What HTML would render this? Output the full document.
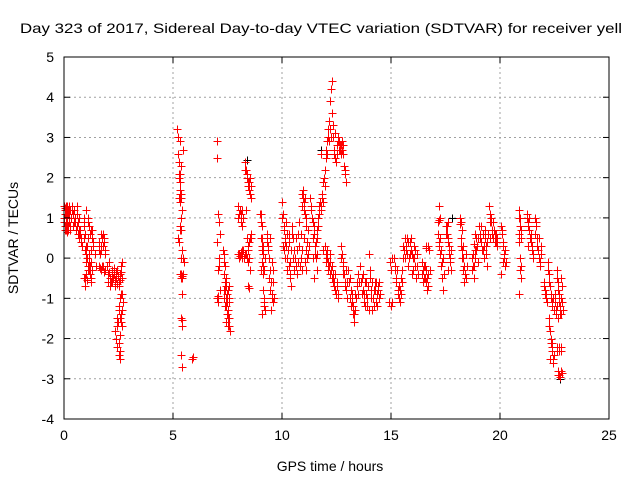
<!DOCTYPE html>
<html><head><meta charset="utf-8"><style>
html,body{margin:0;padding:0;background:#fff}
svg{display:block;font-family:"Liberation Sans",sans-serif}
</style></head><body>
<svg id="chart" width="640" height="480" viewBox="0 0 640 480">
<text x="20" y="33" font-size="14" textLength="602" lengthAdjust="spacingAndGlyphs">Day 323 of 2017, Sidereal Day-to-day VTEC variation (SDTVAR) for receiver yell</text>
<text x="330" y="471" font-size="14" text-anchor="middle">GPS time / hours</text>
<text transform="translate(18,238) rotate(-90)" font-size="14" text-anchor="middle">SDTVAR / TECUs</text>
<g id="grid"></g>
<g id="marks"></g>
<g id="axes"></g>
</svg>
<script>
const xTicks=[0,5,10,15,20,25];
const yTicks=[-4,-3,-2,-1,0,1,2,3,4,5];
const redHours=[0,0.02,0.04,0.06,0.08,0.1,0.12,0.14,0.16,0.18,0.2,0.22,0.25,0.28,0.3,
0.35,0.4,0.45,0.5,0.55,0.6,0.65,0.7,0.75,0.8,
0.9,0.93,0.96,1.0,1.03,1.06,1.1,1.13,1.16,1.2,1.23,1.26,1.3,0.92,0.95,1.0,
1.1,1.15,1.2,1.25,1.3,1.35,1.4,1.45,
1.6,1.65,1.7,1.75,1.8,1.85,1.9,
1.6,1.7,1.8,1.9,2.0,2.05,2.1,2.15,2.2,2.25,2.3,2.35,2.4,2.45,2.5,2.55,2.6,2.65,
2.35,2.4,2.45,2.5,2.55,2.45,2.5,2.55,2.6,2.6,2.65,2.7,2.55,
5.2,5.22,5.25,5.28,5.3,5.32,5.35,5.38,5.4,5.3,5.25,5.35,5.4,5.45,5.5,5.35,5.4,5.45,5.4,5.35,5.4,5.35,5.4,5.3,5.45,
5.85,5.9,
7.0,7.0,7.05,7.0,7.1,7.15,7.05,7.1,7.0,7.05,7.15,
7.3,7.32,7.35,7.38,7.4,7.42,7.45,7.48,7.5,7.52,7.55,7.58,7.6,7.45,7.55,
8.0,8.05,8.1,8.15,8.2,8.0,8.05,8.1,8.15,8.25,
8.3,8.35,8.4,8.45,8.5,8.55,8.6,8.35,8.4,8.45,8.5,8.55,8.6,8.45,8.35,
9.0,9.02,9.05,9.08,9.1,9.12,9.15,9.18,9.2,9.1,9.15,9.2,
9.3,9.35,9.4,9.45,9.5,9.55,9.6,9.5,9.55,9.6,
10.0,10.05,10.1,10.15,10.2,10.25,10.3,10.35,10.4,10.1,10.2,10.3,
10.45,10.5,10.55,10.6,10.65,10.7,10.75,10.8,10.85,10.9,
10.9,10.95,11.0,11.05,11.1,11.15,11.2,11.05,11.1,
11.3,11.35,11.4,11.45,11.5,11.55,11.6,11.45,
11.6,11.65,11.7,11.75,11.8,11.85,11.9,11.95,12.0,11.8,12.05,12.1,12.15,12.2,12.25,12.28,12.3,12.35,12.4,12.45,12.5,12.55,12.6,12.65,12.7,12.75,12.8,12.85,12.9,12.95,
11.9,12.0,12.05,12.1,12.15,12.2,12.25,12.3,12.35,12.4,12.45,12.5,12.55,
12.7,12.75,12.8,12.85,12.9,12.95,13.0,
13.05,13.1,13.15,13.2,13.25,13.3,13.35,13.4,13.45,13.5,
13.6,13.65,13.7,13.75,13.8,13.85,13.9,13.95,14.0,14.05,14.1,14.15,14.2,14.25,14.3,14.35,14.4,14.45,
14.9,15.0,15.05,14.95,15.0,15.05,
15.15,15.2,15.25,15.3,15.35,15.4,15.45,15.5,
15.55,15.6,15.65,15.7,15.75,15.8,15.85,15.9,15.95,16.0,16.05,16.1,16.15,16.2,
16.4,16.45,16.5,16.55,16.6,16.65,16.7,16.6,16.7,16.75,
17.2,17.25,17.15,17.2,17.25,17.3,17.35,17.4,17.3,
17.5,17.55,17.6,17.65,17.7,17.75,17.6,
18.15,18.2,18.25,18.2,18.25,18.3,18.35,18.4,18.45,
18.7,18.75,18.8,18.85,18.9,18.95,19.0,18.85,
19.05,19.1,19.15,19.2,19.25,19.3,19.35,19.4,
19.5,19.55,19.6,19.65,19.7,19.75,19.8,19.85,
20.05,20.1,20.15,20.2,20.25,20.05,
20.85,20.9,20.95,20.85,20.9,20.95,20.85,
21.25,21.3,21.35,21.4,21.45,21.5,
21.6,21.65,21.7,21.75,21.8,21.85,21.9,
22.0,22.05,22.1,22.15,
22.2,22.25,22.3,22.35,22.4,22.5,22.55,
22.25,22.3,22.35,22.4,22.45,22.4,
22.6,22.7,22.8,22.65,22.7,22.8,22.6,22.65,22.7,22.75,22.8,22.85,22.8];
const redValues=[1.0,1.3,0.7,1.2,0.9,1.1,0.8,1.3,1.0,0.7,1.2,0.9,1.1,0.8,1.0,
1.2,1.1,0.9,1.0,0.7,0.8,0.6,0.5,0.7,0.4,
1.0,0.9,0.6,0.3,0.1,0.0,-0.2,-0.1,-0.3,-0.4,-0.5,-0.6,-0.3,-0.5,-0.7,-0.4,
0.9,0.8,0.6,0.7,0.5,0.3,0.1,-0.2,
0.2,0.1,0.3,0.5,0.6,0.4,0.2,
-0.2,-0.3,-0.2,-0.3,-0.4,-0.1,-0.5,-0.6,-0.3,-0.5,-0.4,-0.7,-0.5,-0.3,-0.6,-0.4,-0.2,-0.5,
-1.8,-2.0,-2.2,-2.4,-2.5,-1.5,-1.2,-1.0,-0.9,-1.4,-1.7,-1.1,-1.9,
3.2,3.0,2.6,2.1,1.6,1.9,1.5,2.3,1.2,0.8,0.5,0.7,0.2,0.0,-0.1,-0.4,-0.5,-0.4,-0.9,-1.5,-1.7,-2.4,-2.7,2.9,2.7,
-2.5,-2.45,
2.9,2.5,1.1,0.4,0.9,0.6,-0.3,-0.2,-1.0,-1.1,-0.8,
0.2,-0.1,-0.4,-0.6,-0.8,-1.0,-1.2,-0.9,-1.3,-1.5,-1.1,-1.7,-1.8,-0.5,-0.7,
1.3,1.1,0.9,1.2,1.0,0.1,0.0,0.1,0.2,0.0,
2.4,2.2,2.0,1.8,1.9,1.6,1.5,1.2,0.5,0.2,0.0,-0.3,0.5,-0.7,0.1,
1.1,0.9,0.5,0.2,-0.1,-0.4,-0.8,-1.1,-1.3,-1.4,0.3,0.0,
0.6,0.3,0.0,-0.3,-0.6,-0.9,-1.1,-1.3,-0.1,-0.3,
1.4,1.1,0.8,0.5,0.3,0.0,-0.2,-0.5,-0.7,0.2,0.9,0.6,
0.8,0.5,0.2,0.0,-0.2,-0.4,0.6,0.3,0.0,-0.3,
1.6,1.7,1.4,1.1,0.8,0.4,0.1,-0.1,-0.3,
1.5,1.2,0.9,0.6,0.3,0.0,-0.3,-0.5,
0.5,0.8,1.1,1.4,1.3,1.6,1.9,2.2,2.5,2.6,2.9,3.2,3.4,3.9,4.2,4.4,3.6,3.0,2.7,2.5,2.8,2.9,2.7,2.8,2.6,2.9,2.8,2.3,2.2,1.9,
0.2,0.1,0.0,-0.1,-0.2,0.1,-0.3,-0.5,-0.4,-0.6,-0.8,-0.7,-0.9,
0.3,0.1,-0.2,-0.4,-0.6,-0.8,-1.0,
-0.3,-0.5,-0.8,-1.1,-1.4,-1.6,-1.3,-1.0,-0.7,-0.4,
-0.2,-0.5,-0.8,-1.1,-0.6,-0.9,-1.2,-0.7,0.1,-0.3,-1.0,-1.3,-0.8,-0.6,-1.1,-0.9,-0.7,-1.0,
-1.1,-1.2,-1.1,-0.1,-0.3,0.0,
0.0,-0.2,-0.5,-0.8,-1.0,-1.1,-0.9,-0.6,
0.0,0.2,0.5,0.3,0.1,-0.2,0.4,0.2,-0.4,0.0,0.3,-0.2,-0.5,0.1,
-0.1,-0.3,-0.5,-0.2,-0.6,-0.8,-0.4,0.3,0.3,0.2,
1.3,1.0,0.9,0.4,0.1,-0.2,-0.5,-0.8,0.2,
0.8,0.6,0.4,0.1,-0.1,-0.3,0.9,
1.0,0.9,0.7,0.3,0.0,-0.3,-0.6,-0.4,0.1,
0.0,-0.2,-0.5,0.2,0.5,0.3,-0.1,0.6,
0.8,0.6,0.4,0.2,0.0,0.5,0.3,-0.2,
1.3,1.1,0.9,0.7,0.5,0.6,0.4,0.3,
0.8,0.6,0.3,0.0,-0.2,-0.4,
1.2,1.0,0.7,0.4,0.0,-0.2,-0.9,
1.1,0.9,0.7,0.4,0.2,0.0,
1.0,0.8,0.5,0.2,0.0,-0.2,0.3,
-0.6,-0.8,-1.0,-1.1,
-0.1,-0.4,-0.7,-1.0,-1.2,-0.9,-1.3,
-1.5,-1.8,-2.0,-2.3,-2.6,-2.1,
-2.2,-2.3,-2.2,-2.8,-2.9,-2.8,-0.3,-0.6,-0.9,-1.2,-1.4,-1.1,-0.5];
const moreHours=[0.01,0.03,0.05,0.07,0.09,0.11,0.13,0.15,0.17,0.19,0.21,0.23,0.26,0.29,0.05,0.15,
0.33,0.38,0.42,0.48,0.52,0.58,0.62,0.68,0.72,0.78,0.82,0.7,0.6,
0.91,0.94,0.97,0.99,1.02,1.05,1.08,1.11,1.14,1.17,1.19,1.22,1.25,1.28,1.31,1.0,1.08,0.95,1.05,
1.62,1.68,1.72,1.78,1.82,1.88,
1.65,1.75,1.85,1.95,2.0,2.08,2.12,2.18,2.22,2.28,2.32,2.38,2.42,2.48,2.52,2.58,2.62,2.68,
2.42,2.47,2.52,2.57,2.62,2.67,2.68,2.5,2.55,
5.27,5.29,5.31,5.33,5.36,5.38,5.32,5.28,5.36,5.42,5.38,5.32,5.41,5.26,5.34,
7.33,7.36,7.4,7.43,7.46,7.49,7.51,7.54,7.57,7.59,7.44,7.35,7.4,7.5,
7.02,7.08,7.12,
8.02,8.08,8.12,8.18,8.22,8.28,8.08,8.12,8.18,8.0,
8.32,8.38,8.42,8.48,8.52,8.58,8.42,8.48,8.52,8.58,8.38,8.44,8.5,
9.03,9.06,9.09,9.11,9.13,9.16,9.19,9.17,9.05,9.1,
9.32,9.38,9.42,9.47,9.52,9.57,9.62,9.45,
10.02,10.07,10.12,10.17,10.22,10.27,10.32,10.37,10.42,10.05,10.15,10.25,10.35,
10.47,10.52,10.57,10.62,10.67,10.72,10.77,10.82,10.87,10.92,
10.92,10.97,11.02,11.07,11.12,11.17,11.22,11.0,11.1,11.15,
11.32,11.37,11.42,11.47,11.52,11.57,11.62,11.4,
11.62,11.67,11.72,11.77,11.82,11.87,11.92,11.97,12.02,12.07,12.12,12.17,12.22,12.27,12.32,12.37,12.42,12.47,12.52,12.57,12.62,12.67,12.72,12.77,12.82,12.88,
11.95,12.02,12.08,12.12,12.18,12.22,12.28,12.32,12.38,12.42,12.48,12.52,12.58,
12.72,12.78,12.82,12.88,12.92,12.98,
13.07,13.12,13.17,13.22,13.27,13.32,13.37,13.42,13.47,13.52,
13.62,13.67,13.72,13.77,13.82,13.87,13.92,13.97,14.02,14.07,14.12,14.17,14.22,14.27,14.32,14.37,14.42,14.47,14.5,
15.17,15.22,15.27,15.32,15.37,15.42,15.47,15.52,
15.57,15.62,15.67,15.72,15.77,15.82,15.87,15.92,15.97,16.02,16.07,16.12,16.17,16.22,
16.42,16.47,16.52,16.57,16.62,16.67,16.72,16.77,16.62,
17.17,17.22,17.27,17.32,17.37,17.42,17.22,
17.52,17.57,17.62,17.67,17.72,17.77,17.62,
18.17,18.22,18.27,18.32,18.37,18.42,18.47,18.3,
18.72,18.77,18.82,18.87,18.92,18.97,18.8,
19.07,19.12,19.17,19.22,19.27,19.32,19.37,19.42,19.47,
19.52,19.57,19.62,19.67,19.72,19.77,19.82,19.87,19.55,
20.07,20.12,20.17,20.22,20.27,20.12,
20.87,20.92,20.97,20.87,20.92,20.97,
21.22,21.27,21.32,21.37,21.42,21.47,21.52,21.3,
21.62,21.67,21.72,21.77,21.82,21.87,
22.02,22.07,22.12,22.17,
22.22,22.27,22.32,22.37,22.42,22.47,22.52,22.57,22.62,22.67,
22.27,22.32,22.37,22.42,22.47,22.3,
22.62,22.72,22.82,22.67,22.75,22.85,22.62,22.67,22.72,22.77,22.82,22.87,22.85];
const moreValues=[0.9,1.1,0.8,1.3,1.0,0.7,1.2,0.9,1.1,0.8,1.3,1.0,0.7,1.2,1.25,0.65,
1.0,1.3,0.8,1.2,0.9,1.1,0.9,0.7,0.6,0.5,0.3,1.0,1.3,
0.8,0.5,0.2,-0.1,-0.4,0.3,-0.3,0.5,0.1,-0.2,0.6,0.2,-0.1,0.7,0.4,1.2,1.0,-0.5,-0.55,
0.4,0.2,0.6,0.3,0.5,0.1,
-0.25,-0.2,-0.35,-0.2,-0.6,-0.35,-0.7,-0.45,-0.6,-0.25,-0.55,-0.35,-0.65,-0.45,-0.7,-0.55,-0.35,-0.1,
-1.7,-1.6,-1.3,-1.5,-1.6,-1.3,-0.9,-2.1,-2.3,
2.0,1.5,1.4,2.1,1.6,1.0,0.7,0.4,0.0,-0.45,-0.5,-0.4,-1.55,2.4,1.7,
-0.8,-1.0,-1.2,-0.7,-1.4,-1.1,-0.8,-1.3,-1.0,-1.5,-1.6,0.1,-0.2,-1.7,
-1.0,-0.95,0.0,
0.1,0.05,0.15,0.0,0.2,0.1,1.2,1.1,0.8,1.0,
2.2,2.1,1.9,1.7,2.0,1.8,0.3,0.4,0.5,0.6,0.0,-0.1,-0.75,
1.1,0.8,0.3,-0.2,0.1,-1.0,-1.2,-0.3,-0.3,0.5,
0.4,0.2,-0.5,-0.8,-1.0,-0.6,-1.0,0.5,
1.0,0.7,0.4,0.9,0.6,0.2,0.4,-0.1,0.2,0.3,0.0,-0.3,-0.4,
0.6,0.0,-0.3,0.5,0.2,-0.1,0.9,-0.2,0.6,0.2,
1.3,1.5,1.2,1.5,1.0,0.7,0.3,0.5,0.2,0.0,
1.3,1.0,0.5,0.8,0.1,0.4,0.1,0.0,
0.7,1.0,1.3,1.2,1.5,1.4,2.0,1.8,2.7,2.6,3.0,2.9,3.2,3.0,3.3,2.6,3.1,2.4,2.6,3.0,2.9,2.7,2.8,2.7,2.6,2.1,
0.3,-0.1,0.2,-0.3,-0.1,-0.4,-0.2,-0.6,-0.7,-0.4,-0.9,-0.6,-1.0,
0.0,-0.4,-0.1,-0.7,-0.3,-0.6,
-0.6,-1.0,-1.2,-0.9,-1.2,-1.4,-0.9,-0.6,-0.9,-0.6,
-0.6,-0.9,-0.4,-0.9,-1.2,-0.6,-1.0,-1.3,-0.5,-0.8,-0.6,-1.0,-1.2,-0.8,-0.6,-1.2,-0.8,-0.6,-0.9,
-0.3,-0.6,-0.3,-0.9,-0.7,-0.8,-0.5,-0.3,
0.3,0.0,0.2,0.5,0.4,0.0,0.1,0.5,0.1,-0.3,0.0,0.2,-0.2,-0.4,
-0.4,-0.6,-0.2,-0.5,-0.3,-0.5,-0.7,-0.3,0.25,
0.6,0.3,0.5,-0.1,0.0,-0.4,0.95,
0.6,0.8,0.5,0.3,0.0,0.2,-0.3,
0.85,0.5,0.2,0.0,-0.2,-0.5,-0.2,0.3,
-0.3,0.1,-0.2,0.0,0.2,0.5,0.35,
0.5,0.8,0.2,0.6,0.3,0.7,0.1,0.4,0.6,
0.9,1.0,0.6,0.9,0.7,0.4,0.6,0.5,0.5,
0.7,0.4,0.1,0.2,-0.1,-0.1,
1.0,0.8,0.5,0.6,-0.3,-0.5,
1.0,0.8,1.0,0.5,0.6,0.3,0.1,0.3,
0.6,0.9,0.3,0.5,-0.1,0.1,
-0.7,-0.9,-0.9,-1.1,
-0.3,-0.6,-0.9,-1.1,-1.0,-1.3,-1.1,-1.4,-1.2,-1.5,
-1.7,-2.1,-2.2,-2.5,-2.4,-2.5,
-2.3,-2.2,-2.3,-2.9,-2.95,-2.85,-0.5,-0.8,-1.1,-1.4,-1.0,-1.3,-0.7];
const blackHours=[12.3,11.8,17.8,22.75,8.4];
const blackValues=[4.4,2.7,1.0,-3.0,2.45];

const L=64,R=609,T=57,B=419,xMin=0,xMax=25,yMin=-4,yMax=5;
const sx=v=>L+(v-xMin)/(xMax-xMin)*(R-L);
const sy=v=>B-(v-yMin)/(yMax-yMin)*(B-T);
const NS='http://www.w3.org/2000/svg';
function mk(tag,attrs,parent){const e=document.createElementNS(NS,tag);for(const k in attrs)e.setAttribute(k,attrs[k]);parent.appendChild(e);return e;}
const grid=document.getElementById('grid'),axes=document.getElementById('axes'),marks=document.getElementById('marks');
xTicks.forEach(t=>{const x=sx(t);
 if(t>xMin&&t<xMax){const g=mk('line',{x1:x,x2:x,y1:T,y2:B,stroke:'#a0a0a0','stroke-dasharray':'2,3','stroke-width':1},grid);
 
 }
 mk('line',{x1:x,x2:x,y1:B,y2:B-6,stroke:'#000'},axes);
 mk('line',{x1:x,x2:x,y1:T,y2:T+6,stroke:'#000'},axes);
 const tx=mk('text',{x:x,y:B+21,'font-size':14,'text-anchor':'middle'},axes);tx.textContent=t;
 
 
});
yTicks.forEach(t=>{const y=sy(t);
 if(t>yMin&&t<yMax){const g=mk('line',{x1:L,x2:R,y1:y,y2:y,stroke:'#a0a0a0','stroke-dasharray':'2,3','stroke-width':1},grid);
 
 }
 mk('line',{x1:L,x2:L+6,y1:y,y2:y,stroke:'#000'},axes);
 mk('line',{x1:R,x2:R-6,y1:y,y2:y,stroke:'#000'},axes);
 const tx=mk('text',{x:L-10,y:y+5,'font-size':14,'text-anchor':'end'},axes);tx.textContent=t;
 
 
});
const fr=mk('rect',{x:L,y:T,width:R-L,height:B-T,fill:'none',stroke:'#000','stroke-width':1},axes);


function plus(hs,vs,color,name){let d='';
 for(let i=0;i<hs.length;i++){const x=Math.round(sx(hs[i]))+0.5,y=Math.round(sy(vs[i]))+0.5;d+=`M${x-4},${y}h8M${x},${y-4}v8`;}
 const p=mk('path',{d:d,stroke:color,'stroke-width':1,fill:'none'},marks);
 
 }
plus(blackHours,blackValues,'#000000','sdtvar-points-secondary');
plus(redHours,redValues,'#ff0000','sdtvar-points');
plus(moreHours,moreValues,'#ff0000','sdtvar-points-extra');
</script>
</body></html>
